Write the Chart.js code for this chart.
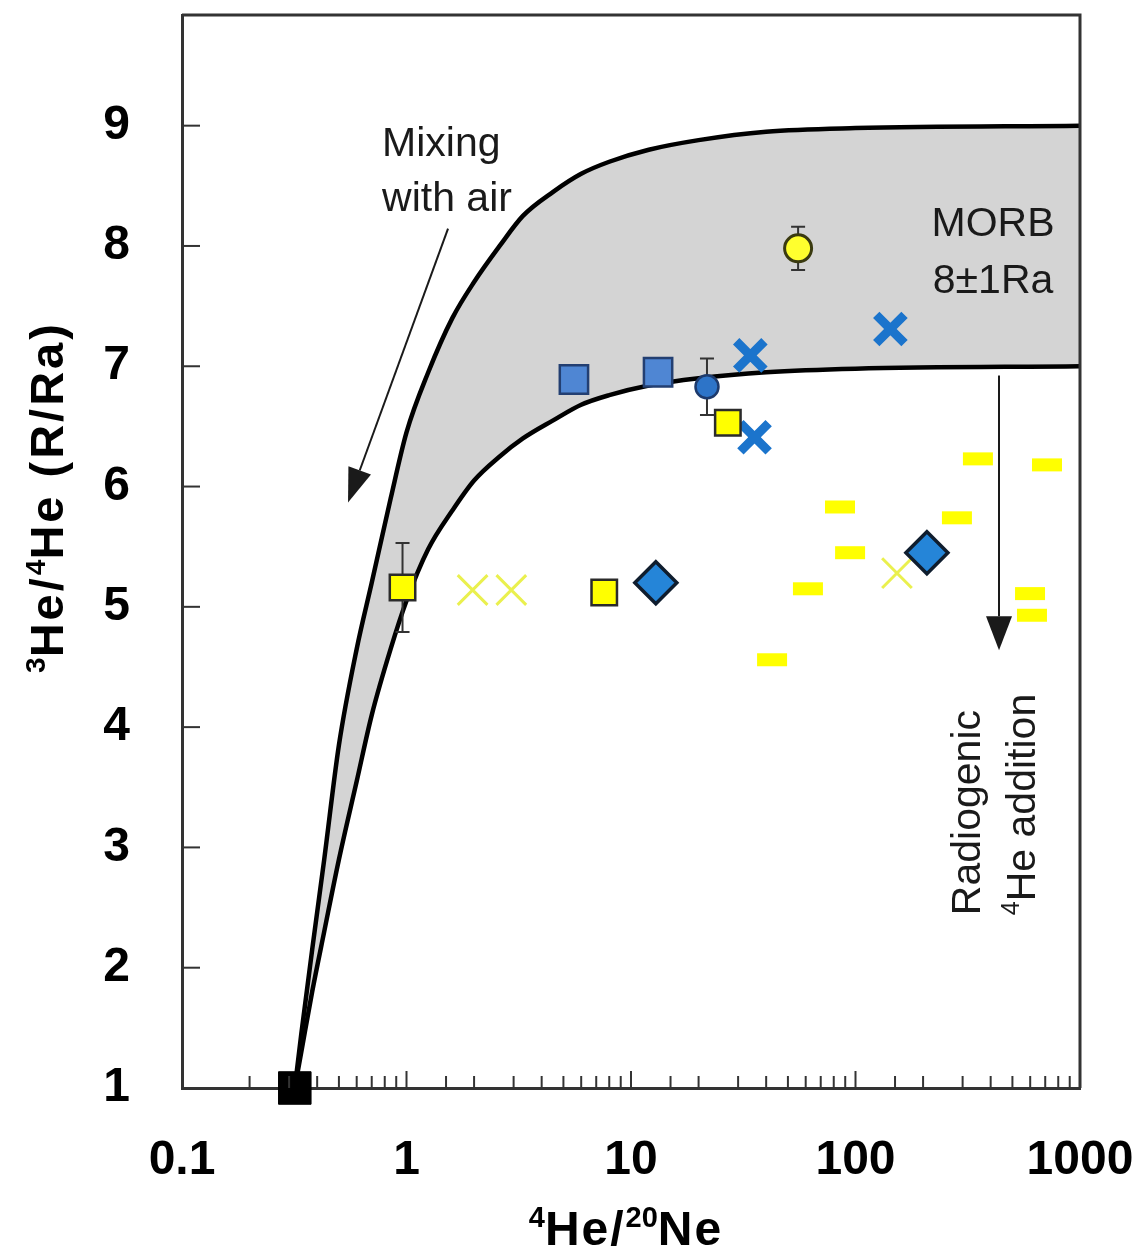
<!DOCTYPE html>
<html>
<head>
<meta charset="utf-8">
<script src="https://cdn.jsdelivr.net/npm/chart.js@4/dist/chart.umd.min.js"></script>
<style>
html,body{margin:0;padding:0;background:#fff;overflow:hidden;}
#wrap{width:1144px;height:1254px;position:relative;}
</style>
</head>
<body>
<div id="wrap"><canvas id="c"></canvas></div>
<script>
// ---------- data ----------
const curveX = [0.318, 0.34, 0.38, 0.43, 0.5, 0.6, 0.7, 0.85, 1.0, 1.25, 1.6, 2.0, 2.6, 3.3, 4.5, 6, 8, 12, 20, 40, 100, 1000];
const upperY = [1.0, 1.45, 2.15, 2.9, 3.85, 4.65, 5.2, 5.9, 6.45, 6.95, 7.4, 7.7, 8.0, 8.25, 8.45, 8.6, 8.7, 8.8, 8.88, 8.95, 8.98, 9.0];
const lowerY = [1.0, 1.3, 1.8, 2.3, 2.9, 3.55, 4.1, 4.65, 5.05, 5.48, 5.8, 6.05, 6.25, 6.4, 6.55, 6.68, 6.76, 6.84, 6.9, 6.95, 6.98, 7.0];

const airX = [0.318], airY = [1];
const blueSquareX = [5.57, 13.2], blueSquareY = [6.89, 6.95];
const blueCircleX = [21.8], blueCircleY = [6.83], blueCircleErr = [0.235];
const yellowSquareX = [0.96, 7.6, 27], yellowSquareY = [5.16, 5.12, 6.53], yellowSquareErr = [0.37, 0, 0];
const yellowCircleX = [55.5], yellowCircleY = [7.98], yellowCircleErr = [0.18];
const blueCrossX = [34, 35.5, 143], blueCrossY = [7.09, 6.41, 7.31];
const blueDiamondX = [12.9, 208], blueDiamondY = [5.20, 5.45];
const yellowCrossX = [1.97, 2.93, 153], yellowCrossY = [5.14, 5.14, 5.28];
const yellowDashX = [351, 713, 85.3, 283, 94.6, 61.4, 599, 611, 42.5];
const yellowDashY = [6.23, 6.18, 5.83, 5.74, 5.45, 5.15, 5.11, 4.93, 4.56];

const yTickValues = [1, 2, 3, 4, 5, 6, 7, 8, 9];
const xLabelValues = [0.1, 1, 10, 100, 1000];
const xLabels = ['0.1', '1', '10', '100', '1000'];

// annotation anchors in data space
const mixingText = [{t: 'Mixing', x: 0.778, y: 8.75}, {t: 'with air', x: 0.778, y: 8.294}];
const mixingArrow = {x1: 1.531, y1: 8.144, x2: 0.549, y2: 5.868};
const morbText = [{t: 'MORB', x: 409.9, y: 8.086}, {t: '8\u00B11Ra', x: 409.9, y: 7.613}];
const radioArrow = {x1: 435.8, y1: 6.923, x2: 435.8, y2: 4.639};
const radioText1 = {x: 358.5, y: 2.437};
const radioText2 = {x: 630, y: 2.437};

const FONT = '"Liberation Sans", Arial, Helvetica, sans-serif';

function pts(xs, ys) { return xs.map((x, i) => ({x: x, y: ys[i]})); }

function isDecade(v) {
  const l = Math.log10(v);
  return Math.abs(l - Math.round(l)) < 1e-6;
}

function drawRich(ctx, parts, x, y, align, size, supSize, rise, spacing) {
  ctx.save();
  let total = 0;
  const widths = parts.map(p => {
    ctx.font = 'bold ' + (p.sup ? supSize : size) + 'px ' + FONT;
    if ('letterSpacing' in ctx) ctx.letterSpacing = (p.sup ? 0 : spacing) + 'px';
    const w = ctx.measureText(p.t).width;
    total += w;
    return w;
  });
  let cx = align === 'center' ? x - total / 2 : x;
  ctx.textAlign = 'left';
  ctx.textBaseline = 'alphabetic';
  parts.forEach((p, i) => {
    ctx.font = 'bold ' + (p.sup ? supSize : size) + 'px ' + FONT;
    if ('letterSpacing' in ctx) ctx.letterSpacing = (p.sup ? 0 : spacing) + 'px';
    ctx.fillText(p.t, cx, p.sup ? y - rise : y);
    cx += widths[i];
  });
  ctx.restore();
}

function arrow(ctx, x1, y1, x2, y2, len, halfW) {
  const a = Math.atan2(y2 - y1, x2 - x1);
  const bx = x2 - Math.cos(a) * len, by = y2 - Math.sin(a) * len;
  ctx.beginPath();
  ctx.moveTo(x1, y1);
  ctx.lineTo(bx, by);
  ctx.stroke();
  ctx.beginPath();
  ctx.moveTo(x2, y2);
  ctx.lineTo(bx + Math.sin(a) * halfW, by - Math.cos(a) * halfW);
  ctx.lineTo(bx - Math.sin(a) * halfW, by + Math.cos(a) * halfW);
  ctx.closePath();
  ctx.fill();
}

function noPad(s) { s.paddingTop = 0; s.paddingBottom = 0; s.paddingLeft = 0; s.paddingRight = 0; }

const decor = {
  id: 'decor',
  afterDatasetDraw(chart, args) {
    if (args.index !== 1) return;
    const ctx = chart.ctx, xs = chart.scales.x, ys = chart.scales.y;
    const bars = [];
    blueCircleX.forEach((x, i) => bars.push([x, blueCircleY[i], blueCircleErr[i]]));
    yellowSquareX.forEach((x, i) => bars.push([x, yellowSquareY[i], yellowSquareErr[i]]));
    yellowCircleX.forEach((x, i) => bars.push([x, yellowCircleY[i], yellowCircleErr[i]]));
    ctx.save();
    ctx.strokeStyle = '#333';
    ctx.lineWidth = 2;
    bars.forEach(b => {
      if (!b[2]) return;
      const px = xs.getPixelForValue(b[0]);
      const t = ys.getPixelForValue(b[1] + b[2]);
      const bt = ys.getPixelForValue(b[1] - b[2]);
      ctx.beginPath();
      ctx.moveTo(px, t); ctx.lineTo(px, bt);
      ctx.moveTo(px - 7, t); ctx.lineTo(px + 7, t);
      ctx.moveTo(px - 7, bt); ctx.lineTo(px + 7, bt);
      ctx.stroke();
    });
    ctx.restore();
  },
  afterDraw(chart) {
    const ctx = chart.ctx, a = chart.chartArea, xs = chart.scales.x, ys = chart.scales.y;
    ctx.save();
    // frame (top & right)
    ctx.strokeStyle = '#333';
    ctx.lineWidth = 3;
    ctx.beginPath();
    ctx.moveTo(a.left, a.top); ctx.lineTo(a.right, a.top); ctx.lineTo(a.right, a.bottom);
    ctx.stroke();
    // inward ticks
    ctx.lineWidth = 2;
    xs.ticks.forEach(t => {
      const px = xs.getPixelForValue(t.value);
      if (px < a.left + 1 || px > a.right - 1) return;
      const len = isDecade(t.value) ? 17 : 12;
      ctx.beginPath(); ctx.moveTo(px, a.bottom); ctx.lineTo(px, a.bottom - len); ctx.stroke();
    });
    ys.ticks.forEach(t => {
      const py = ys.getPixelForValue(t.value);
      if (py > a.bottom - 1) return;
      ctx.beginPath(); ctx.moveTo(a.left, py); ctx.lineTo(a.left + 18, py); ctx.stroke();
    });
    // annotations
    ctx.fillStyle = '#1a1a1a';
    ctx.strokeStyle = '#1a1a1a';
    ctx.font = '41px ' + FONT;
    ctx.textBaseline = 'alphabetic';
    ctx.textAlign = 'left';
    mixingText.forEach(m => ctx.fillText(m.t, xs.getPixelForValue(m.x), ys.getPixelForValue(m.y)));
    ctx.textAlign = 'center';
    morbText.forEach(m => ctx.fillText(m.t, xs.getPixelForValue(m.x), ys.getPixelForValue(m.y)));
    ctx.lineWidth = 2;
    arrow(ctx, xs.getPixelForValue(mixingArrow.x1), ys.getPixelForValue(mixingArrow.y1),
          xs.getPixelForValue(mixingArrow.x2), ys.getPixelForValue(mixingArrow.y2), 34, 12);
    arrow(ctx, xs.getPixelForValue(radioArrow.x1), ys.getPixelForValue(radioArrow.y1),
          xs.getPixelForValue(radioArrow.x2), ys.getPixelForValue(radioArrow.y2), 34, 13);
    // rotated annotation
    ctx.save();
    ctx.translate(xs.getPixelForValue(radioText1.x), ys.getPixelForValue(radioText1.y));
    ctx.rotate(-Math.PI / 2);
    ctx.textAlign = 'left';
    ctx.font = '41px ' + FONT;
    ctx.fillText('Radiogenic', 0, 0);
    ctx.restore();
    ctx.save();
    ctx.translate(xs.getPixelForValue(radioText2.x), ys.getPixelForValue(radioText2.y));
    ctx.rotate(-Math.PI / 2);
    ctx.font = '25px ' + FONT;
    ctx.textAlign = 'left';
    ctx.fillText('4', 0, -16);
    const w4 = ctx.measureText('4').width;
    ctx.font = '41px ' + FONT;
    ctx.fillText('He addition', w4, 0);
    ctx.restore();
    // axis titles
    ctx.fillStyle = '#000';
    drawRich(ctx, [{t: '4', sup: true}, {t: 'He/'}, {t: '20', sup: true}, {t: 'Ne'}],
             626, 1245, 'center', 48, 29, 18, 2);
    ctx.save();
    ctx.translate(63, 497);
    ctx.rotate(-Math.PI / 2);
    drawRich(ctx, [{t: '3', sup: true}, {t: 'He/'}, {t: '4', sup: true}, {t: 'He (R/Ra)'}],
             0, 0, 'center', 47, 28, 18, 3);
    ctx.restore();
    ctx.restore();
  }
};

const curveCommon = {
  showLine: true, pointRadius: 0, borderColor: '#000', borderWidth: 4.5,
  cubicInterpolationMode: 'monotone'
};

const datasets = [
  Object.assign({label: 'MORB upper', data: pts(curveX, upperY), fill: '+1', backgroundColor: '#d4d4d4', order: 20}, curveCommon),
  Object.assign({label: 'MORB lower', data: pts(curveX, lowerY), fill: false, order: 19}, curveCommon),
  {label: 'Yellow dash', data: pts(yellowDashX, yellowDashY), pointStyle: 'line', pointRadius: 15, borderColor: '#ffff00', borderWidth: 13, backgroundColor: '#ffff00', order: 9},
  {label: 'Yellow cross', data: pts(yellowCrossX, yellowCrossY), pointStyle: 'crossRot', pointRadius: 21, borderColor: '#eaf04e', borderWidth: 3, order: 8},
  {label: 'Blue cross', data: pts(blueCrossX, blueCrossY), pointStyle: 'crossRot', pointRadius: 20, borderColor: '#1b74cc', borderWidth: 9, order: 7},
  {label: 'Blue square', data: pts(blueSquareX, blueSquareY), pointStyle: 'rect', pointRadius: 20, backgroundColor: '#4f86d3', borderColor: '#233f72', borderWidth: 2.5, order: 6},
  {label: 'Yellow square', data: pts(yellowSquareX, yellowSquareY), pointStyle: 'rect', pointRadius: 18, backgroundColor: '#ffff00', borderColor: '#2b2b2b', borderWidth: 2.5, order: 5},
  {label: 'Blue circle', data: pts(blueCircleX, blueCircleY), pointStyle: 'circle', pointRadius: 11.5, backgroundColor: '#2d74c8', borderColor: '#1d3a6c', borderWidth: 2.5, order: 4},
  {label: 'Yellow circle', data: pts(yellowCircleX, yellowCircleY), pointStyle: 'circle', pointRadius: 13.5, backgroundColor: '#ffff2e', borderColor: '#3a3a10', borderWidth: 3, order: 3},
  {label: 'Blue diamond', data: pts(blueDiamondX, blueDiamondY), pointStyle: 'rectRot', pointRadius: 21, backgroundColor: '#2585d8', borderColor: '#0f1d2e', borderWidth: 3.5, order: 2},
  {label: 'Air', data: pts(airX, airY), pointStyle: 'rect', pointRadius: 23, backgroundColor: '#000', borderColor: '#000', borderWidth: 1, clip: false, order: 1}
];

new Chart(document.getElementById('c'), {
  type: 'scatter',
  data: {datasets: datasets},
  options: {
    responsive: true,
    maintainAspectRatio: false,
    animation: false,
    layout: {autoPadding: false, padding: {top: 15, right: 64, left: 0, bottom: 0}},
    plugins: {legend: {display: false}, tooltip: {enabled: false}},
    scales: {
      x: {
        type: 'logarithmic', position: 'bottom', min: 0.1, max: 1000,
        grid: {display: false, drawTicks: false},
        border: {display: true, color: '#333', width: 3},
        ticks: {
          autoSkip: false, maxRotation: 0, minRotation: 0, padding: 44, color: '#000',
          font: {family: FONT, size: 48, weight: 'bold'},
          callback: function (v) {
            const i = xLabelValues.findIndex(d => Math.abs(Math.log10(d) - Math.log10(v)) < 1e-6);
            return i >= 0 ? xLabels[i] : '';
          }
        },
        afterFit: function (s) { s.height = 166; noPad(s); }
      },
      y: {
        type: 'linear', min: 1, max: 9.92,
        grid: {display: false, drawTicks: false},
        border: {display: true, color: '#333', width: 3},
        afterBuildTicks: function (s) { s.ticks = yTickValues.map(v => ({value: v})); },
        ticks: {padding: 52, color: '#000', font: {family: FONT, size: 48, weight: 'bold'}},
        afterFit: function (s) { s.width = 182; noPad(s); }
      }
    }
  },
  plugins: [decor]
});
</script>
</body>
</html>
